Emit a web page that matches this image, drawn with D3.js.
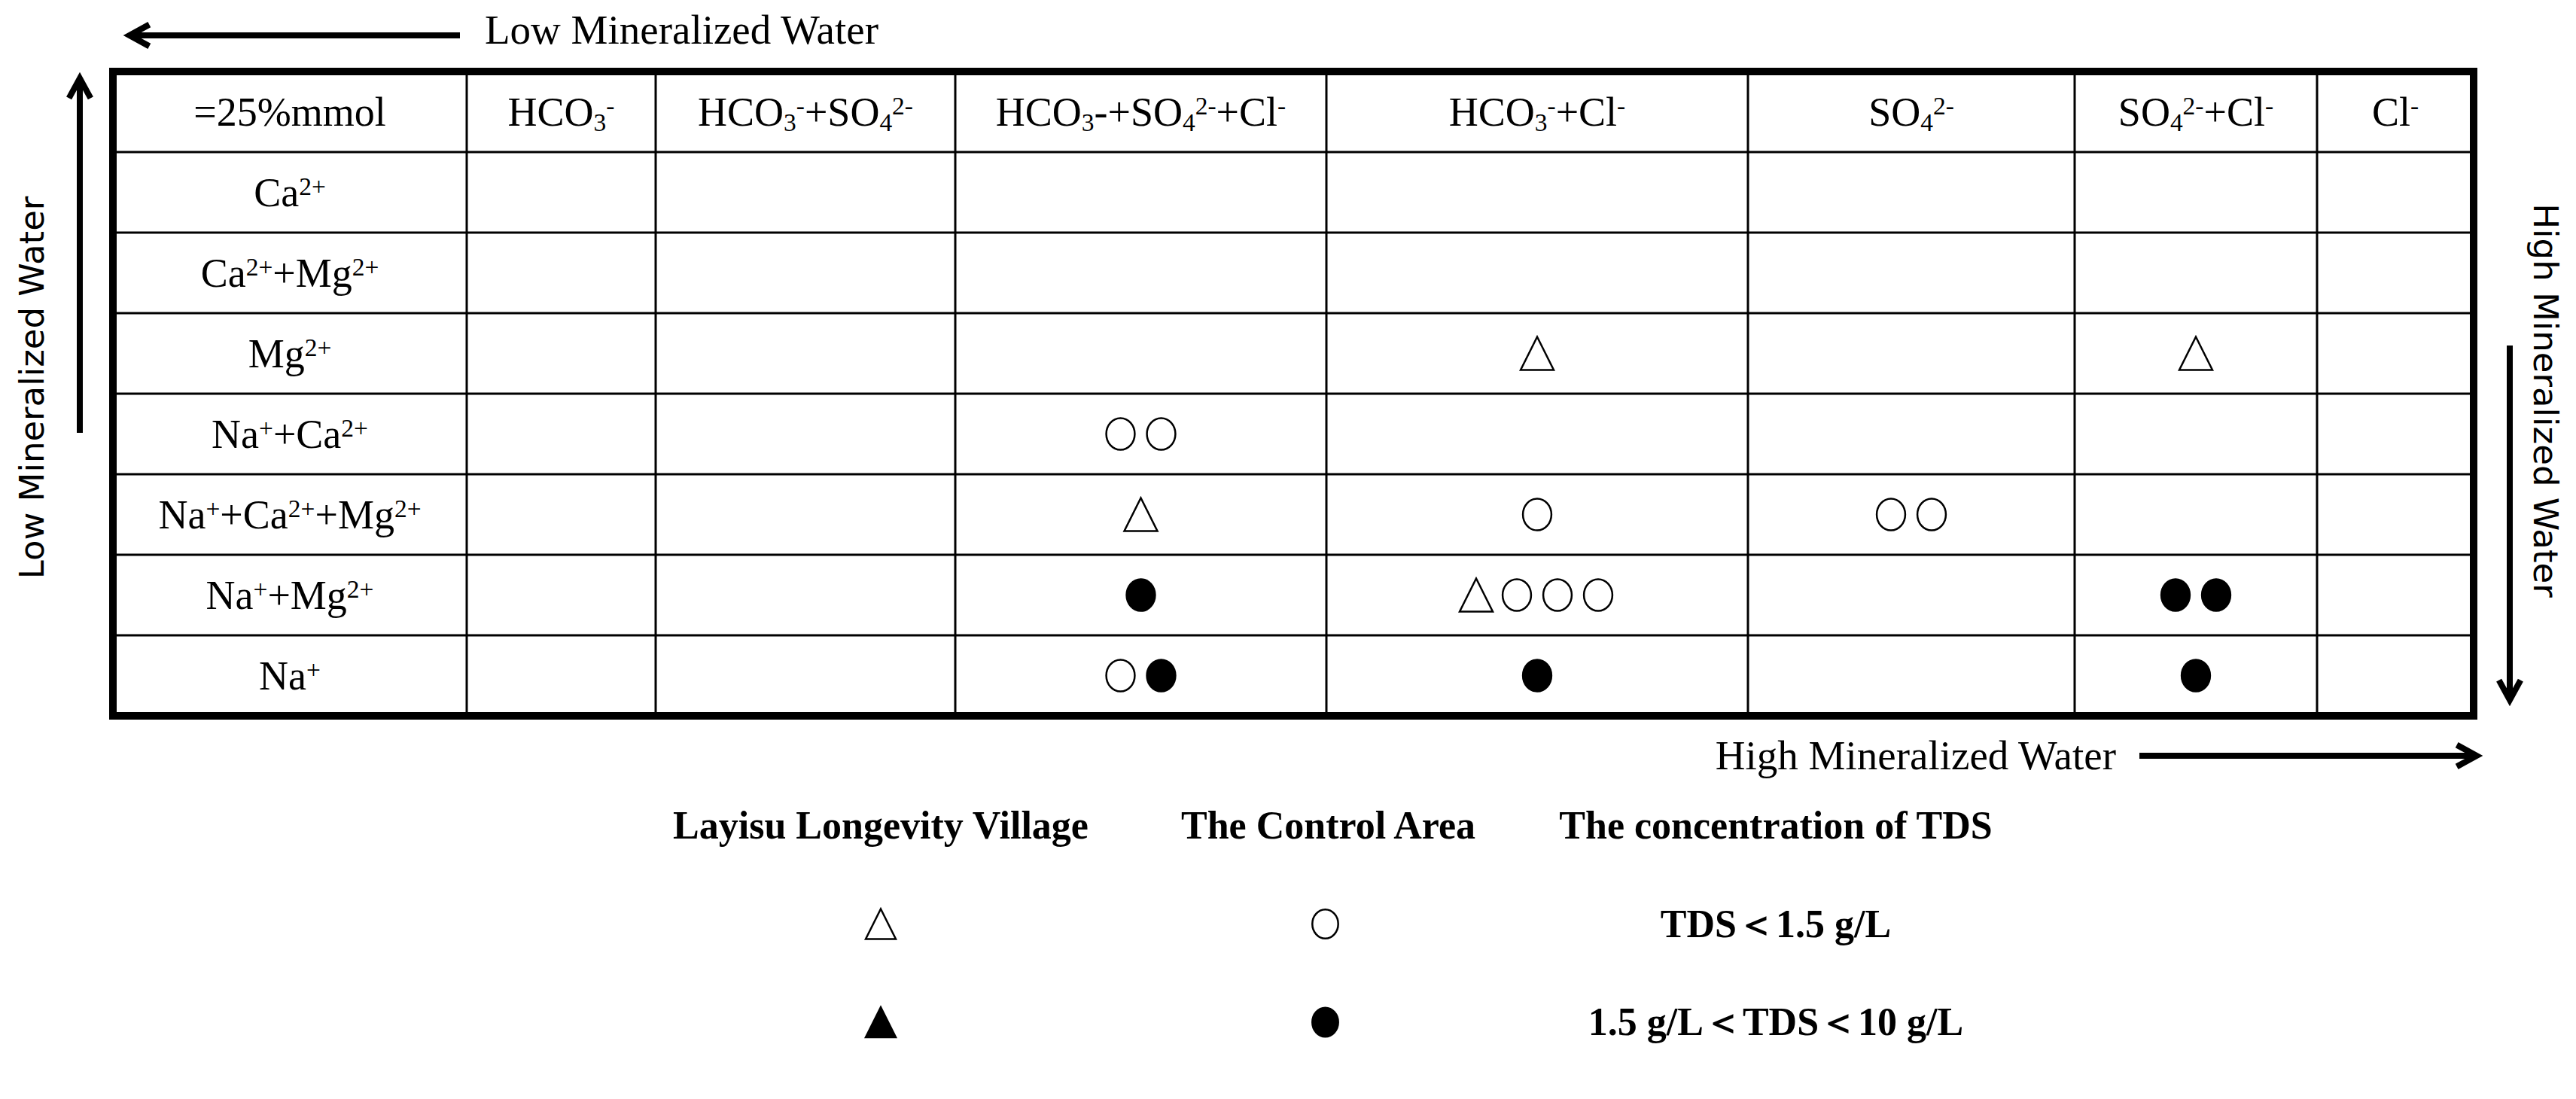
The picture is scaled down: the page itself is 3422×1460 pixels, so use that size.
<!DOCTYPE html>
<html>
<head>
<meta charset="utf-8">
<script src="https://cdn.jsdelivr.net/npm/d3@7"></script>
<style>
  body { margin: 0; background: #fff; }
  svg text { font-family: "Liberation Serif", "Times New Roman", serif; fill: #000; }
</style>
</head>
<body>
<svg id="chart" width="3422" height="1460"></svg>
<script>
// anion groups (columns) and cation groups (rows); _{x} = subscript, ^{x} = superscript
var corner = "=25%mmol";
var anions = ["HCO_{3}^{-}", "HCO_{3}^{-}+SO_{4}^{2-}", "HCO_{3}-+SO_{4}^{2-}+Cl^{-}",
              "HCO_{3}^{-}+Cl^{-}", "SO_{4}^{2-}", "SO_{4}^{2-}+Cl^{-}", "Cl^{-}"];
var cations = ["Ca^{2+}", "Ca^{2+}+Mg^{2+}", "Mg^{2+}", "Na^{+}+Ca^{2+}",
               "Na^{+}+Ca^{2+}+Mg^{2+}", "Na^{+}+Mg^{2+}", "Na^{+}"];

// samples per cell: t = village TDS<1.5, T = village 1.5-10, o = control TDS<1.5, O = control 1.5-10
var samples = [
  { cation: "Mg^{2+}", anion: "HCO_{3}^{-}+Cl^{-}", marks: "t" },
  { cation: "Mg^{2+}", anion: "SO_{4}^{2-}+Cl^{-}", marks: "t" },
  { cation: "Na^{+}+Ca^{2+}", anion: "HCO_{3}-+SO_{4}^{2-}+Cl^{-}", marks: "oo" },
  { cation: "Na^{+}+Ca^{2+}+Mg^{2+}", anion: "HCO_{3}-+SO_{4}^{2-}+Cl^{-}", marks: "t" },
  { cation: "Na^{+}+Ca^{2+}+Mg^{2+}", anion: "HCO_{3}^{-}+Cl^{-}", marks: "o" },
  { cation: "Na^{+}+Ca^{2+}+Mg^{2+}", anion: "SO_{4}^{2-}", marks: "oo" },
  { cation: "Na^{+}+Mg^{2+}", anion: "HCO_{3}-+SO_{4}^{2-}+Cl^{-}", marks: "O" },
  { cation: "Na^{+}+Mg^{2+}", anion: "HCO_{3}^{-}+Cl^{-}", marks: "tooo" },
  { cation: "Na^{+}+Mg^{2+}", anion: "SO_{4}^{2-}+Cl^{-}", marks: "OO" },
  { cation: "Na^{+}", anion: "HCO_{3}-+SO_{4}^{2-}+Cl^{-}", marks: "oO" },
  { cation: "Na^{+}", anion: "HCO_{3}^{-}+Cl^{-}", marks: "O" },
  { cation: "Na^{+}", anion: "SO_{4}^{2-}+Cl^{-}", marks: "O" }
];

var legendHeads = ["Layisu Longevity Village", "The Control Area", "The concentration of TDS"];
var legendRows = [
  { village: "t", control: "o", label: "TDS＜1.5 g/L" },
  { village: "T", control: "O", label: "1.5 g/L＜TDS＜10 g/L" }
];
var lowLabel = "Low Mineralized Water", highLabel = "High Mineralized Water";

// ---- layout ----
var svg = d3.select("#chart");
var colEdges = [150, 620, 871, 1269, 1762, 2322, 2756, 3078, 3286];
var tableTop = 95, tableBottom = 951;
var colKeys = ["corner"].concat(anions);
var x0 = d3.scaleOrdinal().domain(colKeys).range(colEdges.slice(0, -1));
var x1 = d3.scaleOrdinal().domain(colKeys).range(colEdges.slice(1));
var cx = function (k) { return (x0(k) + x1(k)) / 2; };
var y = d3.scaleBand().domain(["head"].concat(cations)).range([tableTop, tableBottom]);
var cy = function (k) { return y(k) + y.bandwidth() / 2; };

function rich(sel, s, size) {
  var re = /([_^])\{([^}]*)\}|([^_^]+)/g, m;
  while ((m = re.exec(s)) !== null) {
    if (m[3]) sel.append("tspan").text(m[3]);
    else sel.append("tspan")
      .attr("baseline-shift", m[1] === "_" ? "-22%" : "45%")
      .attr("font-size", size * 0.62).text(m[2]);
  }
}

// grid
var g = svg.append("g");
colEdges.slice(1, -1).forEach(function (xe) {
  g.append("line").attr("x1", xe).attr("x2", xe).attr("y1", tableTop).attr("y2", tableBottom)
    .attr("stroke", "#000").attr("stroke-width", 3);
});
cations.forEach(function (c) {
  g.append("line").attr("x1", colEdges[0]).attr("x2", colEdges[8]).attr("y1", y(c)).attr("y2", y(c))
    .attr("stroke", "#000").attr("stroke-width", 3);
});
g.append("rect").attr("x", colEdges[0]).attr("y", tableTop)
  .attr("width", colEdges[8] - colEdges[0]).attr("height", tableBottom - tableTop)
  .attr("fill", "none").attr("stroke", "#000").attr("stroke-width", 10);

// header + row labels
var fs = 54;
var hdr = g.append("text").attr("x", cx("corner")).attr("y", cy("head") + 18)
  .attr("text-anchor", "middle").attr("font-size", fs);
rich(hdr, corner, fs);
anions.forEach(function (a) {
  var t = g.append("text").attr("x", cx(a)).attr("y", cy("head") + 18)
    .attr("text-anchor", "middle").attr("font-size", fs);
  rich(t, a, fs);
});
cations.forEach(function (c) {
  var t = g.append("text").attr("x", cx("corner")).attr("y", cy(c) + 18)
    .attr("text-anchor", "middle").attr("font-size", fs);
  rich(t, c, fs);
});

// symbols
function symbol(sel, code, px, py, s) {
  if (code === "t" || code === "T") {
    sel.append("path")
      .attr("d", "M" + px + "," + (py - s * 0.5) + "L" + (px + s * 0.5) + "," + (py + s * 0.5) +
                 "L" + (px - s * 0.5) + "," + (py + s * 0.5) + "Z")
      .attr("fill", code === "T" ? "#000" : "#fff").attr("stroke", "#000").attr("stroke-width", 2.5);
  } else {
    sel.append("ellipse").attr("cx", px).attr("cy", py).attr("rx", s * 0.43).attr("ry", s * 0.48)
      .attr("fill", code === "O" ? "#000" : "#fff").attr("stroke", "#000").attr("stroke-width", 2.5);
  }
}
var step = 54;
samples.forEach(function (d) {
  var n = d.marks.length;
  d.marks.split("").forEach(function (m, i) {
    symbol(g, m, cx(d.anion) + (i - (n - 1) / 2) * step, cy(d.cation), 44);
  });
});

// direction arrows
function arrow(xa, ya, xb, yb) {
  var ang = Math.atan2(yb - ya, xb - xa), h = 30;
  var p = d3.path();
  p.moveTo(xa, ya); p.lineTo(xb, yb);
  p.moveTo(xb - h * Math.cos(ang - 0.5), yb - h * Math.sin(ang - 0.5));
  p.lineTo(xb, yb);
  p.lineTo(xb - h * Math.cos(ang + 0.5), yb - h * Math.sin(ang + 0.5));
  svg.append("path").attr("d", p.toString()).attr("fill", "none")
    .attr("stroke", "#000").attr("stroke-width", 8);
}
arrow(611, 47, 172, 47);
svg.append("text").attr("x", 644).attr("y", 58).attr("font-size", 55).text(lowLabel);
arrow(2842, 1004, 3290, 1004);
svg.append("text").attr("x", 2811).attr("y", 1022).attr("text-anchor", "end").attr("font-size", 55).text(highLabel);
arrow(106, 575, 106, 104);
svg.append("text").attr("transform", "translate(58,515) rotate(-90)").attr("text-anchor", "middle")
  .style("font-family", "DejaVu Sans").attr("font-size", 45).text(lowLabel);
arrow(3334, 459, 3334, 930);
svg.append("text").attr("transform", "translate(3366,532) rotate(90)").attr("text-anchor", "middle")
  .style("font-family", "DejaVu Sans").attr("font-size", 45).text(highLabel);

// legend
var lx = d3.scalePoint().domain(legendHeads).range([1170, 2359]);
var ly = d3.scalePoint().domain(["head"].concat(legendRows.map(function (r) { return r.label; })))
  .range([1097, 1358]);
legendHeads.forEach(function (h) {
  svg.append("text").attr("x", lx(h)).attr("y", ly("head") + 17).attr("text-anchor", "middle")
    .attr("font-size", 52).attr("font-weight", "bold").text(h);
});
legendRows.forEach(function (r) {
  symbol(svg, r.village, lx(legendHeads[0]), ly(r.label), 40);
  symbol(svg, r.control, lx(legendHeads[1]) - 4, ly(r.label), 40);
  svg.append("text").attr("x", lx(legendHeads[2])).attr("y", ly(r.label) + 17).attr("text-anchor", "middle")
    .attr("font-size", 52).attr("font-weight", "bold").text(r.label);
});
</script>
</body>
</html>
